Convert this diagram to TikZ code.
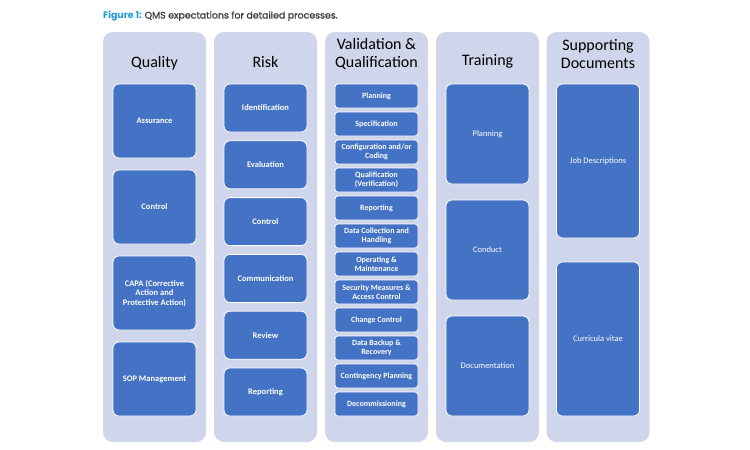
\documentclass[tikz,border=0pt]{standalone}
\usepackage{fontspec}
\setmainfont{Carlito}
\newfontfamily\capfont{Poppins}
\newfontfamily\capfontm[FakeBold=0.9]{Poppins}
\usetikzlibrary{positioning}
\definecolor{colfill}{HTML}{CFD5EA}
\definecolor{boxfill}{HTML}{4472C4}
\definecolor{figblue}{HTML}{1C9AD6}
\definecolor{captext}{HTML}{3A3A3A}

\begin{document}
\begin{tikzpicture}[x=1pt, y=-1pt,
        column/.style={fill=colfill, rounded corners=10pt, minimum width=103pt,
            minimum height=410pt, inner sep=0pt},
        heading/.style={align=center, font=\fontsize{16}{18}\selectfont},
        item/.style={fill=boxfill, draw=white, line width=0.8pt, text=white,
            align=center, inner sep=1pt, outer sep=0pt, minimum width=83pt,
            rounded corners=6pt, font=\fontsize{8.5}{9.5}\selectfont\bfseries},
        plain/.style={item, font=\fontsize{8.5}{9.5}\selectfont},
        small/.style={item, minimum height=24pt, rounded corners=3pt,
            font=\fontsize{8}{9.3}\selectfont\bfseries}]
    \useasboundingbox[fill=white] (0,0) rectangle (750,450);

    % caption
    \node[anchor=base west, inner sep=0pt, font=\fontsize{9.4}{11}\selectfont] (caption) at (103,18.5)
        {\textcolor{figblue}{\capfont\bfseries Figure 1:} \textcolor{captext}{\capfontm QMS expectations for detailed processes.}};

    % columns
    \node[column] (quality) at (154.5,237) {};
    \node[column] (risk) at (265.5,237) {};
    \node[column] (valid) at (376.5,237) {};
    \node[column] (training) at (487.5,237) {};
    \node[column] (support) at (598,237) {};

    \node[heading] (qtitle) at (154.5,63) {Quality};
    \node[heading] (rtitle) at (265.5,62) {Risk};
    \node[heading] (vtitle) at (376.5,54) {Validation \&\\Qualification};
    \node[heading] (ttitle) at (487.5,61) {Training};
    \node[heading] (stitle) at (598,54) {Supporting\\Documents};

    % quality
    \node[item, minimum height=74pt, anchor=north] (q1) at (154.5,84) {Assurance};
    \node[item, minimum height=74pt, below=12pt of q1] (q2) {Control};
    \node[item, minimum height=74pt, below=12pt of q2] (q3) {CAPA (Corrective\\Action and\\Protective Action)};
    \node[item, minimum height=74pt, below=12pt of q3] (q4) {SOP Management};

    % risk
    \node[item, minimum height=48pt, anchor=north] (r1) at (265.5,84) {Identification};
    \node[item, minimum height=48pt, below=8.8pt of r1] (r2) {Evaluation};
    \node[item, minimum height=48pt, below=8.8pt of r2] (r3) {Control};
    \node[item, minimum height=48pt, below=8.8pt of r3] (r4) {Communication};
    \node[item, minimum height=48pt, below=8.8pt of r4] (r5) {Review};
    \node[item, minimum height=48pt, below=8.8pt of r5] (r6) {Reporting};

    % validation & qualification
    \node[small, anchor=north] (v1) at (376.5,84) {Planning};
    \node[small, below=4pt of v1] (v2) {Specification};
    \node[small, below=4pt of v2] (v3) {Configuration and/or\\Coding};
    \node[small, below=4pt of v3] (v4) {Qualification\\(Verification)};
    \node[small, below=4pt of v4] (v5) {Reporting};
    \node[small, below=4pt of v5] (v6) {Data Collection and\\Handling};
    \node[small, below=4pt of v6] (v7) {Operating \&\\Maintenance};
    \node[small, below=4pt of v7] (v8) {Security Measures \&\\Access Control};
    \node[small, below=4pt of v8] (v9) {Change Control};
    \node[small, below=4pt of v9] (v10) {Data Backup \&\\Recovery};
    \node[small, below=4pt of v10] (v11) {Contingency Planning};
    \node[small, below=4pt of v11] (v12) {Decommissioning};

    % training
    \node[plain, minimum height=100pt, anchor=north] (t1) at (487.5,84) {Planning};
    \node[plain, minimum height=100pt, below=16pt of t1] (t2) {Conduct};
    \node[plain, minimum height=100pt, below=16pt of t2] (t3) {Documentation};

    % supporting documents
    \node[plain, minimum height=154pt, anchor=north] (s1) at (598,84) {Job Descriptions};
    \node[plain, minimum height=154pt, below=24pt of s1] (s2) {Curricula vitae};
\end{tikzpicture}
\end{document}
